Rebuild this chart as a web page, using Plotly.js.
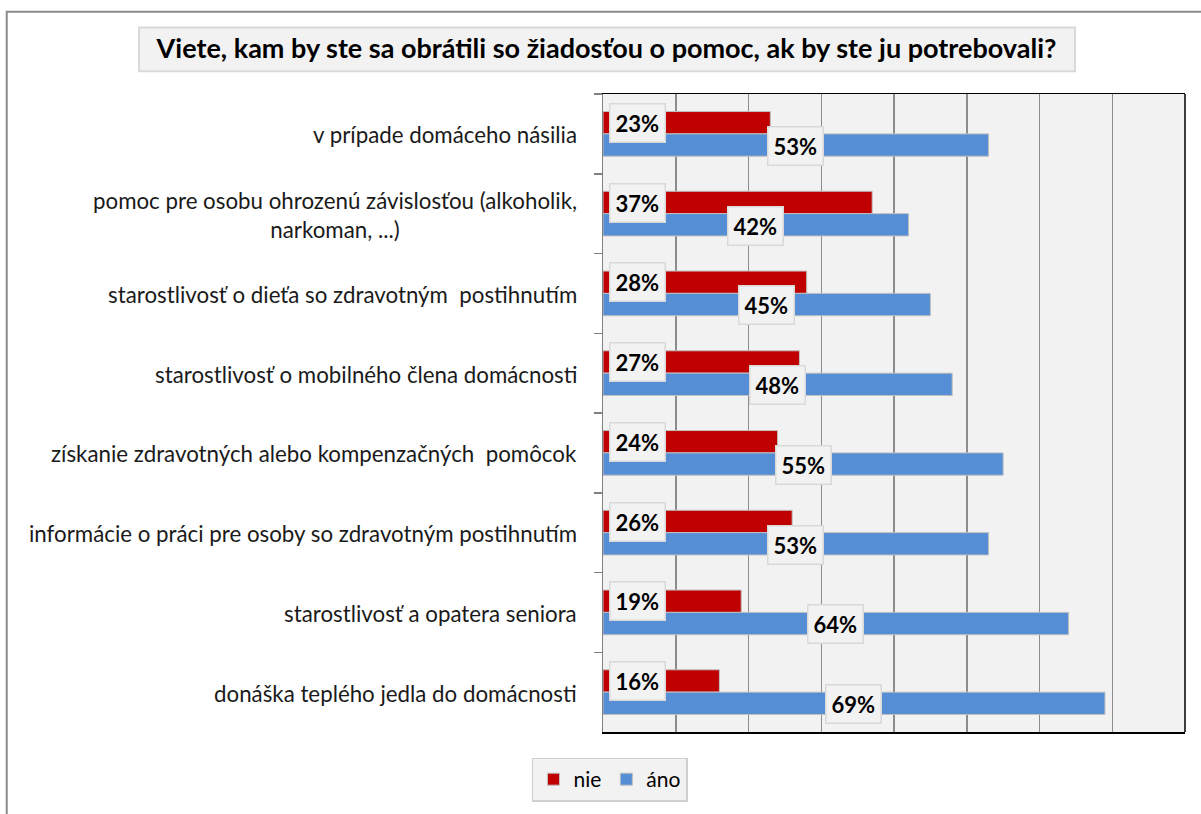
<!DOCTYPE html>
<html>
<head>
<meta charset="utf-8">
<script src="https://cdn.plot.ly/plotly-3.0.1.min.js"></script>
<style>html,body{margin:0;padding:0;background:#fff;}</style>
</head>
<body>
<div id="chart" style="width:1201px;height:814px;"></div>
<script>
const categories = [
  "v prípade domáceho násilia",
  "pomoc pre osobu ohrozenú závislosťou (alkoholik,<br>narkoman, ...)",
  "starostlivosť o dieťa so zdravotným  postihnutím",
  "starostlivosť o mobilného člena domácnosti",
  "získanie zdravotných alebo kompenzačných  pomôcok",
  "informácie o práci pre osoby so zdravotným postihnutím",
  "starostlivosť a opatera seniora",
  "donáška teplého jedla do domácnosti"
];
const nieValues = [23, 37, 28, 27, 24, 26, 19, 16];
const anoValues = [53, 42, 45, 48, 55, 53, 64, 69];
const seriesNames = ["nie", "áno"];
const titleText = "Viete, kam by ste sa obrátili so žiadosťou o pomoc, ak by ste ju potrebovali?";

const FONT = "Lato, 'Open Sans', sans-serif";

const traces = [
  {type:'bar', orientation:'h', name:seriesNames[0], y:categories, x:nieValues,
   marker:{color:'#C00000', line:{color:'#bfbfbf', width:1}}, hoverinfo:'x+y'},
  {type:'bar', orientation:'h', name:seriesNames[1], y:categories, x:anoValues,
   marker:{color:'#558ED5', line:{color:'#bfbfbf', width:1}}, hoverinfo:'x+y'}
];

const annotations = [];
categories.forEach((c, i) => {
  annotations.push({xref:'paper', yref:'y', x:0, y:c, xanchor:'right', yanchor:'middle',
    xshift:-24, yshift:-1, text:c, showarrow:false, align:'center',
    font:{family:FONT, size:22.3, color:'#1a1a1a'}});
  annotations.push({xref:'x', yref:'y', x:0, y:c, xanchor:'left', yanchor:'middle',
    xshift:6, yshift:11, text:'<b>'+nieValues[i]+'%</b>', showarrow:false,
    bgcolor:'#f2f2f2', bordercolor:'#d9d9d9', borderwidth:1.5, borderpad:5,
    font:{family:FONT, size:22, color:'#000'}});
  annotations.push({xref:'x', yref:'y', x:anoValues[i]/2, y:c, xanchor:'center', yanchor:'middle',
    yshift:-12, text:'<b>'+anoValues[i]+'%</b>', showarrow:false,
    bgcolor:'#f2f2f2', bordercolor:'#d9d9d9', borderwidth:1.5, borderpad:5,
    font:{family:FONT, size:22, color:'#000'}});
});

const layout = {
  width:1201, height:814,
  margin:{l:603, r:16, t:94, b:77, pad:0},
  paper_bgcolor:'#ffffff', plot_bgcolor:'#f2f2f2',
  title:{text:'<b>'+titleText+'</b>', x:0.505, xref:'container', xanchor:'center',
         y:1-49/814, yref:'container', yanchor:'middle',
         font:{family:FONT, size:27, color:'#000'}},
  barmode:'group', bargap:0.44, bargroupgap:0,
  showlegend:true,
  legend:{orientation:'h', x:0.012, xanchor:'center', y:-0.04, yanchor:'top',
          bgcolor:'#f2f2f2', bordercolor:'#cfcfcf', borderwidth:1.5,
          traceorder:'normal', font:{family:FONT, size:21, color:'#000'},
          itemwidth:30},
  xaxis:{range:[0,80], dtick:10, showgrid:true, gridcolor:'#8c8c8c', gridwidth:1.5,
         showticklabels:false, ticks:'', zeroline:false,
         showline:true, linecolor:'#000', linewidth:1.5, mirror:true, fixedrange:true},
  yaxis:{type:'category', autorange:'reversed', showticklabels:false,
         ticks:'outside', tickson:'boundaries', ticklen:8, tickcolor:'#808080', tickwidth:1.5,
         showline:true, linecolor:'#808080', linewidth:1.5, showgrid:false, zeroline:false, fixedrange:true},
  shapes:[
    {type:'rect', xref:'paper', yref:'paper', x0:-1.0245, x1:1.3, y0:-0.3, y1:(737-11)/643,
     line:{color:'#8a8a8a', width:2}, fillcolor:'rgba(0,0,0,0)', layer:'below'},
    {type:'rect', xref:'paper', yref:'paper', x0:(139-603)/582, x1:(1075-603)/582,
     y0:(737-71)/643, y1:(737-27)/643, line:{color:'#d9d9d9', width:2}, fillcolor:'#f2f2f2', layer:'below'},
    {type:'line', xref:'paper', yref:'paper', x0:1, x1:1, y0:0, y1:1, line:{color:'#000', width:1.5}}
  ],
  annotations:annotations
};

Plotly.newPlot('chart', traces, layout, {displayModeBar:false, staticPlot:true});
</script>
</body>
</html>
